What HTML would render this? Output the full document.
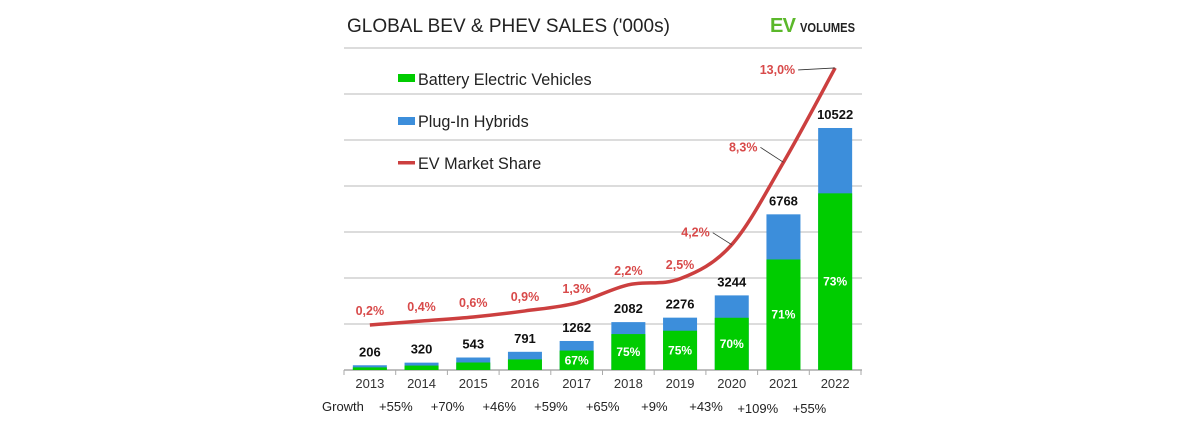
<!DOCTYPE html>
<html><head><meta charset="utf-8"><style>
body{margin:0;background:#fff;width:1200px;height:443px;overflow:hidden}
svg text{font-family:"Liberation Sans",Arial,sans-serif}
</style></head><body>
<svg id="c" width="1200" height="443">
<text x="347" y="32" font-size="19" fill="#222">GLOBAL BEV &amp; PHEV SALES ('000s)</text>
<text x="770" y="32" font-size="20" font-weight="bold" fill="#5bb82a" textLength="26">EV</text>
<text x="800" y="32" font-size="12.5" font-weight="bold" fill="#222" textLength="55" lengthAdjust="spacingAndGlyphs">VOLUMES</text>
<g id="grid"></g><g id="bars"></g><g id="line"></g><g id="labels"></g>
<g>
<rect x="398" y="74" width="17" height="8" fill="#00cc00"/>
<text x="418" y="85" font-size="16.2" fill="#222">Battery Electric Vehicles</text>
<rect x="398" y="117" width="17" height="8" fill="#3c8edb"/>
<text x="418" y="127" font-size="16.2" fill="#222">Plug-In Hybrids</text>
<rect x="398" y="161" width="17" height="3.5" fill="#cc3f3f"/>
<text x="418" y="169" font-size="16.2" fill="#222">EV Market Share</text>
</g>
</svg>
<script>
const years=["2013","2014","2015","2016","2017","2018","2019","2020","2021","2022"];
const totals=[206,320,543,791,1262,2082,2276,3244,6768,10522];
const bevShare=[55,60,60,58,67,75,75,70,71,73];
const marketShare=[0.2,0.4,0.6,0.9,1.3,2.2,2.5,4.2,8.3,13.0];
const shareLabels=["0,2%","0,4%","0,6%","0,9%","1,3%","2,2%","2,5%","4,2%","8,3%","13,0%"];
const growth=["+55%","+70%","+46%","+59%","+65%","+9%","+43%","+109%","+55%"];
const gridTicks=[0,2000,4000,6000,8000,10000,12000,14000];
const NS="http://www.w3.org/2000/svg";
const base=370, x0=344, step=51.7, bw=34;
const y=v=>base-v*0.023;
const xc=i=>x0+step*(i+0.5);
const ys=s=>329-20.08*s;
function el(t,a,p){const e=document.createElementNS(NS,t);for(const k in a)e.setAttribute(k,a[k]);document.getElementById(p).appendChild(e);return e;}
gridTicks.forEach((g,i)=>{const l=el('line',{x1:x0,x2:862,y1:y(g),y2:y(g),stroke:i==0?'#aaa':'#d0d0d0','stroke-width':1.5},'grid');

});
for(let i=0;i<=10;i++){const t=el('line',{x1:x0+step*i,x2:x0+step*i,y1:base,y2:base+5,stroke:'#aaa'},'grid');

}
years.forEach((yr,i)=>{
const bev=totals[i]*bevShare[i]/100,x=xc(i)-bw/2;
const r1=el('rect',{x:x,y:y(totals[i]),width:bw,height:base-y(totals[i]),fill:'#3c8edb'},'bars');


const r2=el('rect',{x:x,y:y(bev),width:bw,height:base-y(bev),fill:'#00cc00'},'bars');


const t=el('text',{x:xc(i),y:y(totals[i])-9,'font-size':13,'font-weight':'bold','text-anchor':'middle',fill:'#111'},'labels');t.textContent=totals[i];


if(i>=4){const p=el('text',{x:xc(i),y:(y(bev)+base)/2+4,'font-size':12,'font-weight':'bold','text-anchor':'middle',fill:'#fff'},'labels');p.textContent=bevShare[i]+'%';

}
const yl=el('text',{x:xc(i),y:388,'font-size':13,'text-anchor':'middle',fill:'#333'},'labels');yl.textContent=yr;


});
const pts=marketShare.map((s,i)=>[xc(i),ys(s)]);
let d='M'+pts[0];
for(let i=0;i<pts.length-1;i++){const p0=pts[Math.max(i-1,0)],p1=pts[i],p2=pts[i+1],p3=pts[Math.min(i+2,pts.length-1)];
d+=` C${p1[0]+(p2[0]-p0[0])/6},${p1[1]+(p2[1]-p0[1])/6} ${p2[0]-(p3[0]-p1[0])/6},${p2[1]-(p3[1]-p1[1])/6} ${p2[0]},${p2[1]}`;}
const ln=el('path',{d:d,fill:'none',stroke:'#cc3f3f','stroke-width':3.5},'line');


marketShare.forEach((s,i)=>{
let lx=xc(i),ly=ys(s)-10,anchor='middle';
if(i>=7){const off=[[-22,-8],[-26,-11],[-40,3]][i-7];lx=xc(i)+off[0];ly=ys(s)+off[1]-(i==9?-3:0);anchor='end';
const ld=el('line',{x1:lx+3,y1:ly-4,x2:xc(i),y2:ys(s),stroke:'#333','stroke-width':0.8},'labels');

}
const t=el('text',{x:lx,y:ly,'font-size':12.5,'font-weight':'bold','text-anchor':anchor,fill:'#d84a4a'},'labels');t.textContent=shareLabels[i];


});
const gl=el('text',{x:322,y:411,'font-size':13,fill:'#222'},'labels');gl.textContent='Growth';


growth.forEach((g,i)=>{const t=el('text',{x:xc(i)+26,y:411+(i>=7?2:0),'font-size':13,'text-anchor':'middle',fill:'#222'},'labels');t.textContent=g;

});
</script>
</body></html>
